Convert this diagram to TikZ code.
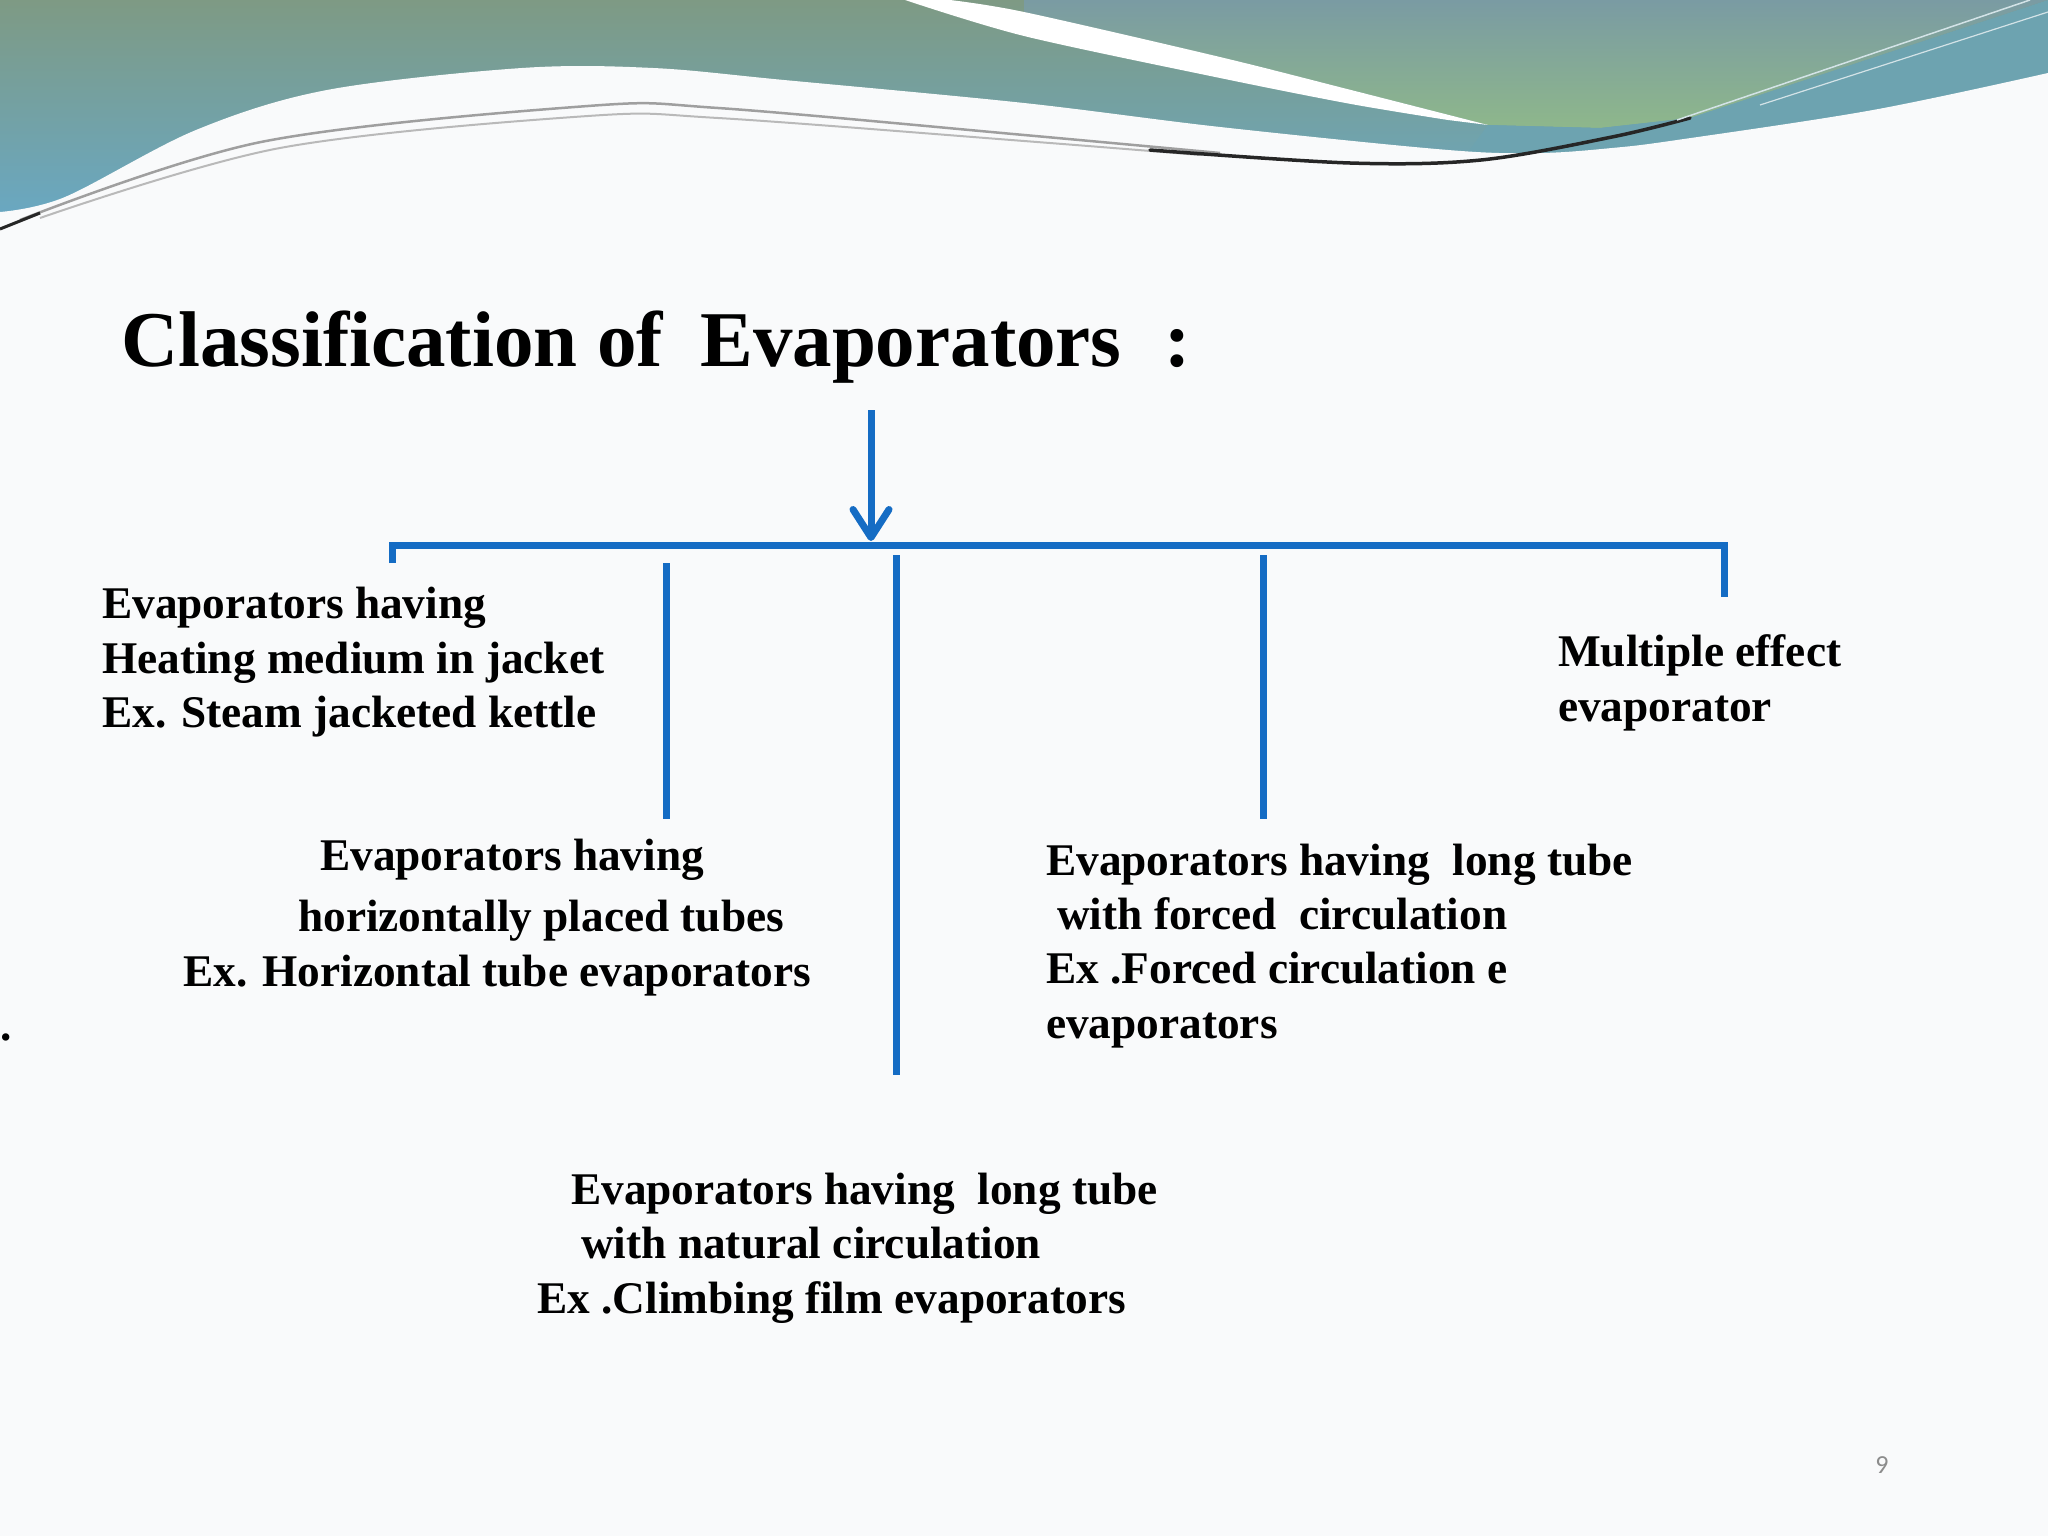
\documentclass[tikz,border=0pt]{standalone}
\usepackage{fontspec}
\setmainfont{Liberation Serif}
\newfontfamily\pgnumfont{Carlito}
\usetikzlibrary{arrows.meta}
\definecolor{linkblue}{HTML}{156CC4}
\definecolor{pagebg}{HTML}{F9FAFB}
\definecolor{hdrtop}{HTML}{7E9A84}
\definecolor{hdrbot}{HTML}{69A8C3}
\definecolor{grntop}{HTML}{7A9BA3}
\definecolor{grnbot}{HTML}{8EB78B}
\definecolor{tealband}{HTML}{6DA3B0}
\definecolor{pggray}{HTML}{8C8C8C}
\begin{document}
\begin{tikzpicture}[x=1pt,y=-1pt,
  lbl/.style={anchor=base west, inner sep=0pt, font=\fontsize{45.3}{55}\selectfont\bfseries},
  titlestyle/.style={anchor=base west, inner sep=0pt, font=\fontsize{79}{90}\selectfont\bfseries},
  conn/.style={draw=linkblue, line width=7pt, line cap=butt, line join=miter}]
\useasboundingbox (0,0) rectangle (2048,1536);
% page background
\fill[pagebg] (0,0) rectangle (2048,1536);
% ---------- header decoration ----------
\shade[top color=hdrtop, bottom color=hdrbot] (0,0) rectangle (2048,220);
\shade[top color=grntop, bottom color=grnbot]
  plot[smooth, tension=0.5] coordinates {(1024,12) (1220,57) (1351,90) (1488,125)}
  -- (1600,128) -- (1690,118) -- (2048,0) -- (1024,0) -- cycle;
\fill[tealband] (1488,125) -- (1600,128) -- (1690,118) -- (2048,0) -- (2048,140) -- (1440,190) -- cycle;
\fill[white]
  plot[smooth, tension=0.5] coordinates {(950,0) (1024,12) (1220,57) (1351,90) (1488,125)}
  -- plot[smooth, tension=0.5] coordinates {(1448,120) (1351,104) (1220,78) (1024,36) (905,0)} -- cycle;
\fill[pagebg]
  plot[smooth, tension=0.55] coordinates {(0,212) (65,197) (196,130) (327,90) (522,68) (653,68) (784,80) (1024,103) (1220,127) (1448,150) (1540,153) (1612,148) (1677,140) (1873,110) (2048,73)}
  -- (2048,1536) -- (0,1536) -- cycle;
\draw[gray!75, line width=2.5pt]
  plot[smooth, tension=0.55] coordinates {(20,220) (261,142) (588,106) (718,108) (1024,135) (1220,153)};
\draw[gray!55, line width=2pt]
  plot[smooth, tension=0.55] coordinates {(40,218) (280,148) (588,116) (718,118) (1024,141) (1200,155)};
\draw[black!85, line width=3.5pt, line cap=round]
  plot[smooth, tension=0.55] coordinates {(1150,150) (1350,163) (1481,160) (1612,137) (1690,118)};
\draw[black!85, line width=3pt] (0,229) -- (40,213);
\draw[white!70!tealband, line width=1.5pt] (1677,120) -- (2030,0);
\draw[white!70!tealband, line width=1.2pt] (1760,105) -- (2048,12);
% ---------- title ----------
\node[titlestyle] (title) at (121,366) {Classification of\hspace{0.47em}Evaporators\hspace{0.54em}:};
% ---------- connectors ----------
\coordinate (src) at (871,410);
\coordinate (hub) at (871,541);
\coordinate (tickL) at (392,563);
\coordinate (barL) at (392,545);
\coordinate (barR) at (1724,545);
\coordinate (tickR) at (1724,597);
\coordinate (v1t) at (666,563);
\coordinate (v1b) at (666,819);
\coordinate (v2t) at (896,555);
\coordinate (v2b) at (896,1075);
\coordinate (v3t) at (1263,555);
\coordinate (v3b) at (1263,819);
\draw[conn] (tickL) -- (barL) -- (barR) -- (tickR);
\draw[conn, -{Straight Barb[length=28pt, width=36pt, round]}] (src) -- (hub);
\draw[conn] (v1t) -- (v1b);
\draw[conn] (v2t) -- (v2b);
\draw[conn] (v3t) -- (v3b);
% ---------- texts ----------
\node[lbl] (a1) at (102,618) {Evaporators having};
\node[lbl] (a2) at (102,673) {Heating medium in jacket};
\node[lbl] (a3) at (102,727) {Ex. Steam jacketed kettle};
\node[lbl] (b1) at (320,870) {Evaporators having};
\node[lbl] (b2) at (298,931) {horizontally placed tubes};
\node[lbl] (b3) at (183,986) {Ex. Horizontal tube evaporators};
\node[lbl] (c1) at (571,1204) {Evaporators having\ \ long tube};
\node[lbl] (c2) at (581,1258) {with natural circulation};
\node[lbl] (c3) at (537,1313) {Ex .Climbing film evaporators};
\node[lbl] (d1) at (1046,875) {Evaporators having\ \ long tube};
\node[lbl] (d2) at (1057,929) {with forced\ \ circulation};
\node[lbl] (d3) at (1046,983) {Ex .Forced circulation e};
\node[lbl] (d4) at (1046,1038) {evaporators};
\node[lbl] (e1) at (1558,666) {Multiple effect};
\node[lbl] (e2) at (1558,721) {evaporator};
\node[lbl] (dot) at (0,1040) {.};
\node[anchor=base, inner sep=0pt, font=\pgnumfont\fontsize{26}{30}\selectfont, text=pggray] (pgnum) at (1882,1473) {9};
\end{tikzpicture}
\end{document}
